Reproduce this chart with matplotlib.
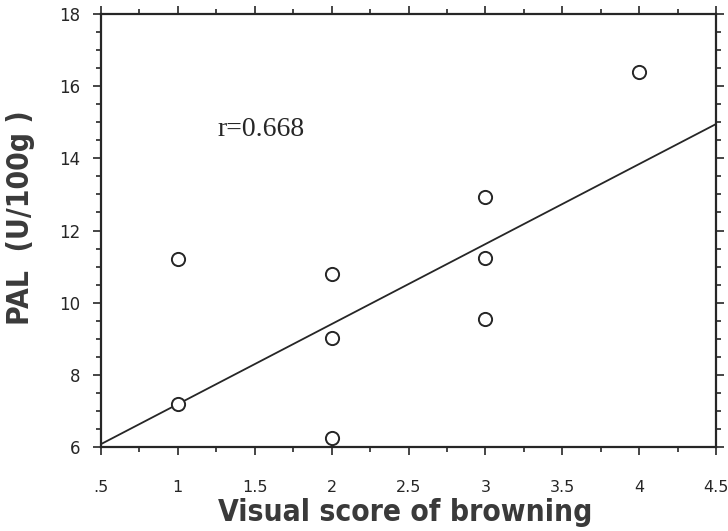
import matplotlib
matplotlib.use("Agg")
import matplotlib.pyplot as plt
from matplotlib.ticker import MultipleLocator, FixedLocator

# Data
score = [1, 1, 2, 2, 2, 3, 3, 3, 4]
pal = [11.22, 7.2, 10.8, 9.02, 6.25, 12.93, 11.23, 9.54, 16.4]
fit_x = [0.5, 4.5]
fit_y = [6.08, 14.95]
xtick_vals = [0.5, 1, 1.5, 2, 2.5, 3, 3.5, 4, 4.5]
xtick_labels = [".5", "1", "1.5", "2", "2.5", "3", "3.5", "4", "4.5"]
ytick_vals = [6, 8, 10, 12, 14, 16, 18]
r_text = "r=0.668"

ink = "#262626"
fig = plt.figure(figsize=(7.28, 5.31), dpi=100)
ax = fig.add_axes([101/728, 1-447/531, 615/728, 433/531])

ax.plot(fit_x, fit_y, color=ink, lw=1.3, zorder=2)
ax.plot(score, pal, linestyle="none", marker="o", markersize=9.5,
        markerfacecolor="white", markeredgecolor=ink, markeredgewidth=1.4, zorder=3)

ax.set_xlim(0.5, 4.5)
ax.set_ylim(6, 18)
ax.set_xticks(xtick_vals, xtick_labels, fontfamily="DejaVu Sans")
ax.xaxis.set_minor_locator(MultipleLocator(0.25))
ax.set_yticks(ytick_vals, [str(v) for v in ytick_vals], fontfamily="DejaVu Sans")
ax.yaxis.set_minor_locator(MultipleLocator(0.5))

for s in ax.spines.values():
    s.set_linewidth(1.6)
    s.set_color(ink)

ax.tick_params(axis="x", which="major", direction="out", top=True, bottom=True,
               labeltop=False, length=6, width=1.2, color=ink, pad=18,
               labelsize=11.5, labelcolor=ink)
ax.tick_params(axis="x", which="minor", direction="out", top=True, bottom=True,
               length=3.5, width=1.2, color=ink)
ax.tick_params(axis="y", which="major", direction="out", left=True, right=True,
               labelright=False, length=6, width=1.2, color=ink, pad=9,
               labelsize=12, labelcolor=ink)
ax.tick_params(axis="y", which="minor", direction="out", left=True, right=True,
               length=3.5, width=1.2, color=ink)

ax.text(1.26, 14.8, r_text, fontsize=20, family="Liberation Serif", color=ink,
        ha="left", va="center")

ax.set_xlabel("Visual score of browning", fontsize=21.5, fontweight="bold",
              family="DejaVu Sans", fontstretch="condensed", color="#3a3a3a")
ax.xaxis.set_label_coords(0.494, -0.118)
ax.set_ylabel("PAL  (U/100g )", fontsize=21.5, fontweight="bold",
              family="DejaVu Sans", fontstretch="condensed", color="#3a3a3a")
ax.yaxis.set_label_coords(-0.108, 0.529)

fig.savefig("out.png", dpi=100)
